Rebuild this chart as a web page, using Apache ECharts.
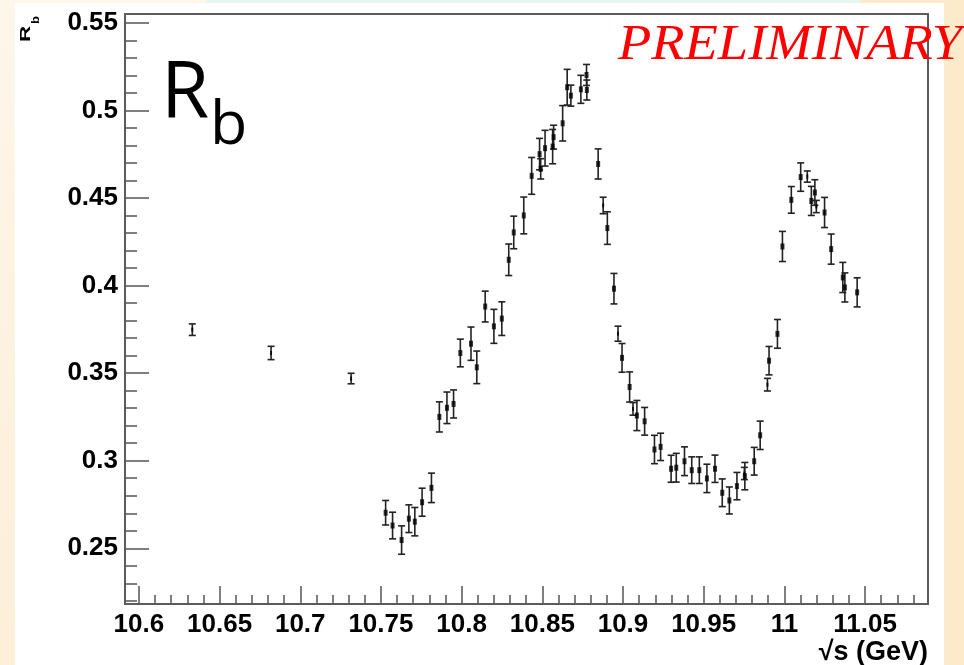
<!DOCTYPE html>
<html><head><meta charset="utf-8">
<script src="https://cdn.jsdelivr.net/npm/echarts@6/dist/echarts.min.js"></script>
<style>
html,body{margin:0;padding:0;}
body{width:964px;height:665px;overflow:hidden;position:relative;background:linear-gradient(#fdf6ea,#fdefd8);}
.bg{position:absolute;}
#chart{position:absolute;left:0;top:0;width:964px;height:665px;}
</style></head><body>
<div class="bg" style="left:944px;top:0;width:20px;height:665px;background:#fdeacb"></div>
<div class="bg" style="left:207px;top:0;width:653px;height:3px;background:#e3f6ef"></div>
<div class="bg" style="left:860px;top:0;width:104px;height:3px;background:#fdeacb"></div>
<div class="bg" style="left:15px;top:3px;width:929px;height:662px;background:#ffffff"></div>
<div id="chart"></div>
<script>
// sqrt(s) in GeV
const sqrtS = [
  10.6331, 10.6819, 10.7315,
  10.7529, 10.7572, 10.7628, 10.7673, 10.7710, 10.7755, 10.7813,
  10.7862, 10.7909, 10.7950, 10.7992, 10.8058, 10.8094, 10.8146,
  10.8200, 10.8249, 10.8292, 10.8323, 10.8385, 10.8434, 10.8483,
  10.8490, 10.8517, 10.8564, 10.8570, 10.8626, 10.8654, 10.8677,
  10.8739, 10.8774, 10.8776, 10.8846, 10.8877, 10.8903, 10.8944,
  10.8969, 10.8994, 10.9041, 10.9062, 10.9086, 10.9134, 10.9195,
  10.9233, 10.9298, 10.9330, 10.9381, 10.9426, 10.9473, 10.9520,
  10.9570, 10.9615, 10.9659, 10.9706, 10.9752, 10.9755, 10.9813,
  10.9850, 10.9895, 10.9905, 10.9957, 10.9988, 11.0043, 11.0101,
  11.0142, 11.0167, 11.0189, 11.0198, 11.0249, 11.0290, 11.0362,
  11.0375, 11.0451
];
// R_b values
const rb = [
  0.3748, 0.3615, 0.3469,
  0.2703, 0.2630, 0.2547, 0.2669, 0.2652, 0.2763, 0.2845,
  0.3250, 0.3302, 0.3324, 0.3615, 0.3668, 0.3533, 0.3880,
  0.3767, 0.3811, 0.4147, 0.4303, 0.4400, 0.4626, 0.4750,
  0.4666, 0.4784, 0.4793, 0.4847, 0.4926, 0.5132, 0.5084,
  0.5120, 0.5202, 0.5116, 0.4694, 0.4457, 0.4328, 0.3982,
  0.3725, 0.3587, 0.3421, 0.3296, 0.3258, 0.3225, 0.3064,
  0.3079, 0.2954, 0.2960, 0.2997, 0.2946, 0.2946, 0.2899,
  0.2954, 0.2817, 0.2773, 0.2855, 0.2927, 0.2912, 0.2997,
  0.3145, 0.3434, 0.3571, 0.3724, 0.4223, 0.4489, 0.4619,
  0.4622, 0.4483, 0.4531, 0.4451, 0.4417, 0.4208, 0.4046,
  0.3989, 0.3961
];
// R_b errors
const rbErr = [
  0.0033, 0.0038, 0.0030,
  0.0070, 0.0076, 0.0081, 0.0079, 0.0081, 0.0080, 0.0084,
  0.0086, 0.0090, 0.0080, 0.0079, 0.0095, 0.0093, 0.0088,
  0.0097, 0.0096, 0.0090, 0.0093, 0.0105, 0.0105, 0.0090,
  0.0058, 0.0102, 0.0098, 0.0068, 0.0101, 0.0102, 0.0060,
  0.0080, 0.0060, 0.0057, 0.0086, 0.0047, 0.0093, 0.0087,
  0.0043, 0.0082, 0.0086, 0.0036, 0.0086, 0.0079, 0.0081,
  0.0078, 0.0077, 0.0082, 0.0082, 0.0076, 0.0076, 0.0081,
  0.0078, 0.0079, 0.0077, 0.0078, 0.0035, 0.0078, 0.0079,
  0.0081, 0.0036, 0.0081, 0.0082, 0.0086, 0.0076, 0.0081,
  0.0032, 0.0083, 0.0073, 0.0035, 0.0086, 0.0086, 0.0086,
  0.0083, 0.0083
];
const xMajorTicks = [10.6, 10.65, 10.7, 10.75, 10.8, 10.85, 10.9, 10.95, 11.0, 11.05];
const xMinorTicks = [10.61, 10.62, 10.63, 10.64, 10.66, 10.67, 10.68, 10.69, 10.71, 10.72, 10.73, 10.74,
  10.76, 10.77, 10.78, 10.79, 10.81, 10.82, 10.83, 10.84, 10.86, 10.87, 10.88, 10.89,
  10.91, 10.92, 10.93, 10.94, 10.96, 10.97, 10.98, 10.99, 11.01, 11.02, 11.03, 11.04,
  11.06, 11.07, 11.08];
const yMajorTicks = [0.25, 0.3, 0.35, 0.4, 0.45, 0.5, 0.55];
const yMinorTicks = [0.22, 0.23, 0.24, 0.26, 0.27, 0.28, 0.29, 0.31, 0.32, 0.33, 0.34,
  0.36, 0.37, 0.38, 0.39, 0.41, 0.42, 0.43, 0.44, 0.46, 0.47, 0.48, 0.49,
  0.51, 0.52, 0.53, 0.54];

const X_MIN = 10.5914, X_MAX = 11.089, Y_MIN = 0.2182, Y_MAX = 0.555;
const axisGray = '#555555';
const labelFont = {fontFamily: 'Liberation Sans', fontWeight: 'bold', fontSize: 26, color: '#000'};

const points = sqrtS.map((x, i) => [x, rb[i], rbErr[i]]);

const chart = echarts.init(document.getElementById('chart'), null, {renderer: 'canvas'});
chart.setOption({
  backgroundColor: 'transparent',
  animation: false,
  grid: {left: 125, right: 36, top: 14, bottom: 61, show: true, borderColor: '#5c5c5c', borderWidth: 2, backgroundColor: 'transparent', containLabel: false, outerBoundsMode: 'none'},
  xAxis: [
    {
      type: 'value', min: X_MIN, max: X_MAX, position: 'bottom',
      axisLine: {show: true, onZero: false, lineStyle: {color: '#5c5c5c', width: 2}},
      axisTick: {show: true, inside: true, length: 18, customValues: xMajorTicks, lineStyle: {color: axisGray, width: 1.5}},
      axisLabel: Object.assign({show: true, margin: 8, customValues: xMajorTicks, formatter: v => String(+v.toFixed(2))}, labelFont),
      splitLine: {show: false},
      name: '\u221As (GeV)', nameLocation: 'end', nameGap: 0,
      nameTextStyle: {fontFamily: 'Liberation Sans', fontWeight: 'bold', fontSize: 27, color: '#000', align: 'right', verticalAlign: 'top', padding: [35, 0, 0, 0]}
    },
    {
      type: 'value', min: X_MIN, max: X_MAX, position: 'bottom',
      axisLine: {show: false, onZero: false},
      axisTick: {show: true, inside: true, length: 9, customValues: xMinorTicks, lineStyle: {color: axisGray, width: 1.5}},
      axisLabel: {show: false},
      splitLine: {show: false}
    }
  ],
  yAxis: [
    {
      type: 'value', min: Y_MIN, max: Y_MAX, position: 'left',
      axisLine: {show: true, onZero: false, lineStyle: {color: '#5c5c5c', width: 2}},
      axisTick: {show: true, inside: true, length: 24, customValues: yMajorTicks, lineStyle: {color: axisGray, width: 1.5}},
      axisLabel: Object.assign({show: true, margin: 7, customValues: yMajorTicks, formatter: v => String(+v.toFixed(2))}, labelFont),
      splitLine: {show: false}
    },
    {
      type: 'value', min: Y_MIN, max: Y_MAX, position: 'left',
      axisLine: {show: false, onZero: false},
      axisTick: {show: true, inside: true, length: 12, customValues: yMinorTicks, lineStyle: {color: axisGray, width: 1.5}},
      axisLabel: {show: false},
      splitLine: {show: false}
    }
  ],
  series: [
    {
      type: 'custom', xAxisIndex: 0, yAxisIndex: 0, data: points,
      encode: {x: 0, y: [1]},
      renderItem: function (params, api) {
        const x = api.value(0), y = api.value(1), e = api.value(2);
        const top = api.coord([x, y + e]);
        const bot = api.coord([x, y - e]);
        const cw = 3.5;
        const style = {stroke: '#222', lineWidth: 1.6};
        return {type: 'group', children: [
          {type: 'line', shape: {x1: top[0], y1: top[1], x2: bot[0], y2: bot[1]}, style: style},
          {type: 'line', shape: {x1: top[0] - cw, y1: top[1], x2: top[0] + cw, y2: top[1]}, style: style},
          {type: 'line', shape: {x1: bot[0] - cw, y1: bot[1], x2: bot[0] + cw, y2: bot[1]}, style: style}
        ]};
      },
      z: 3
    },
    {
      type: 'scatter', xAxisIndex: 0, yAxisIndex: 0,
      data: points.map(p => [p[0], p[1], p[2]]),
      symbol: 'rect',
      symbolSize: function (val) { return val[2] < 0.005 ? [2, 4] : [4, 6]; },
      itemStyle: {color: '#000'},
      z: 4
    }
  ],
  graphic: [
    {type: 'text', x: 161, y: 95.3, z: 10, style: {text: 'R', font: '78px "Open Sans"', fill: '#000', verticalAlign: 'middle', align: 'left'}},
    {type: 'text', x: 210, y: 127, z: 10, style: {text: 'b', font: '61px "Open Sans"', fill: '#000', verticalAlign: 'middle', align: 'left'}},
    {type: 'text', x: 618, y: 46, scaleX: 1.09, z: 10, style: {text: 'PRELIMINARY', font: 'italic 50px "Liberation Serif"', fill: '#ff0000', verticalAlign: 'middle', align: 'left'}},
    {type: 'text', x: 26, y: 42, rotation: Math.PI / 2, scaleX: 1.5, z: 10, style: {text: 'R', font: 'bold 15px "Liberation Sans"', fill: '#000', verticalAlign: 'middle', align: 'left'}},
    {type: 'text', x: 36, y: 24, rotation: Math.PI / 2, scaleX: 1.3, z: 10, style: {text: 'b', font: 'bold 10px "Liberation Sans"', fill: '#000', verticalAlign: 'middle', align: 'left'}}
  ]
});
</script>
</body></html>
